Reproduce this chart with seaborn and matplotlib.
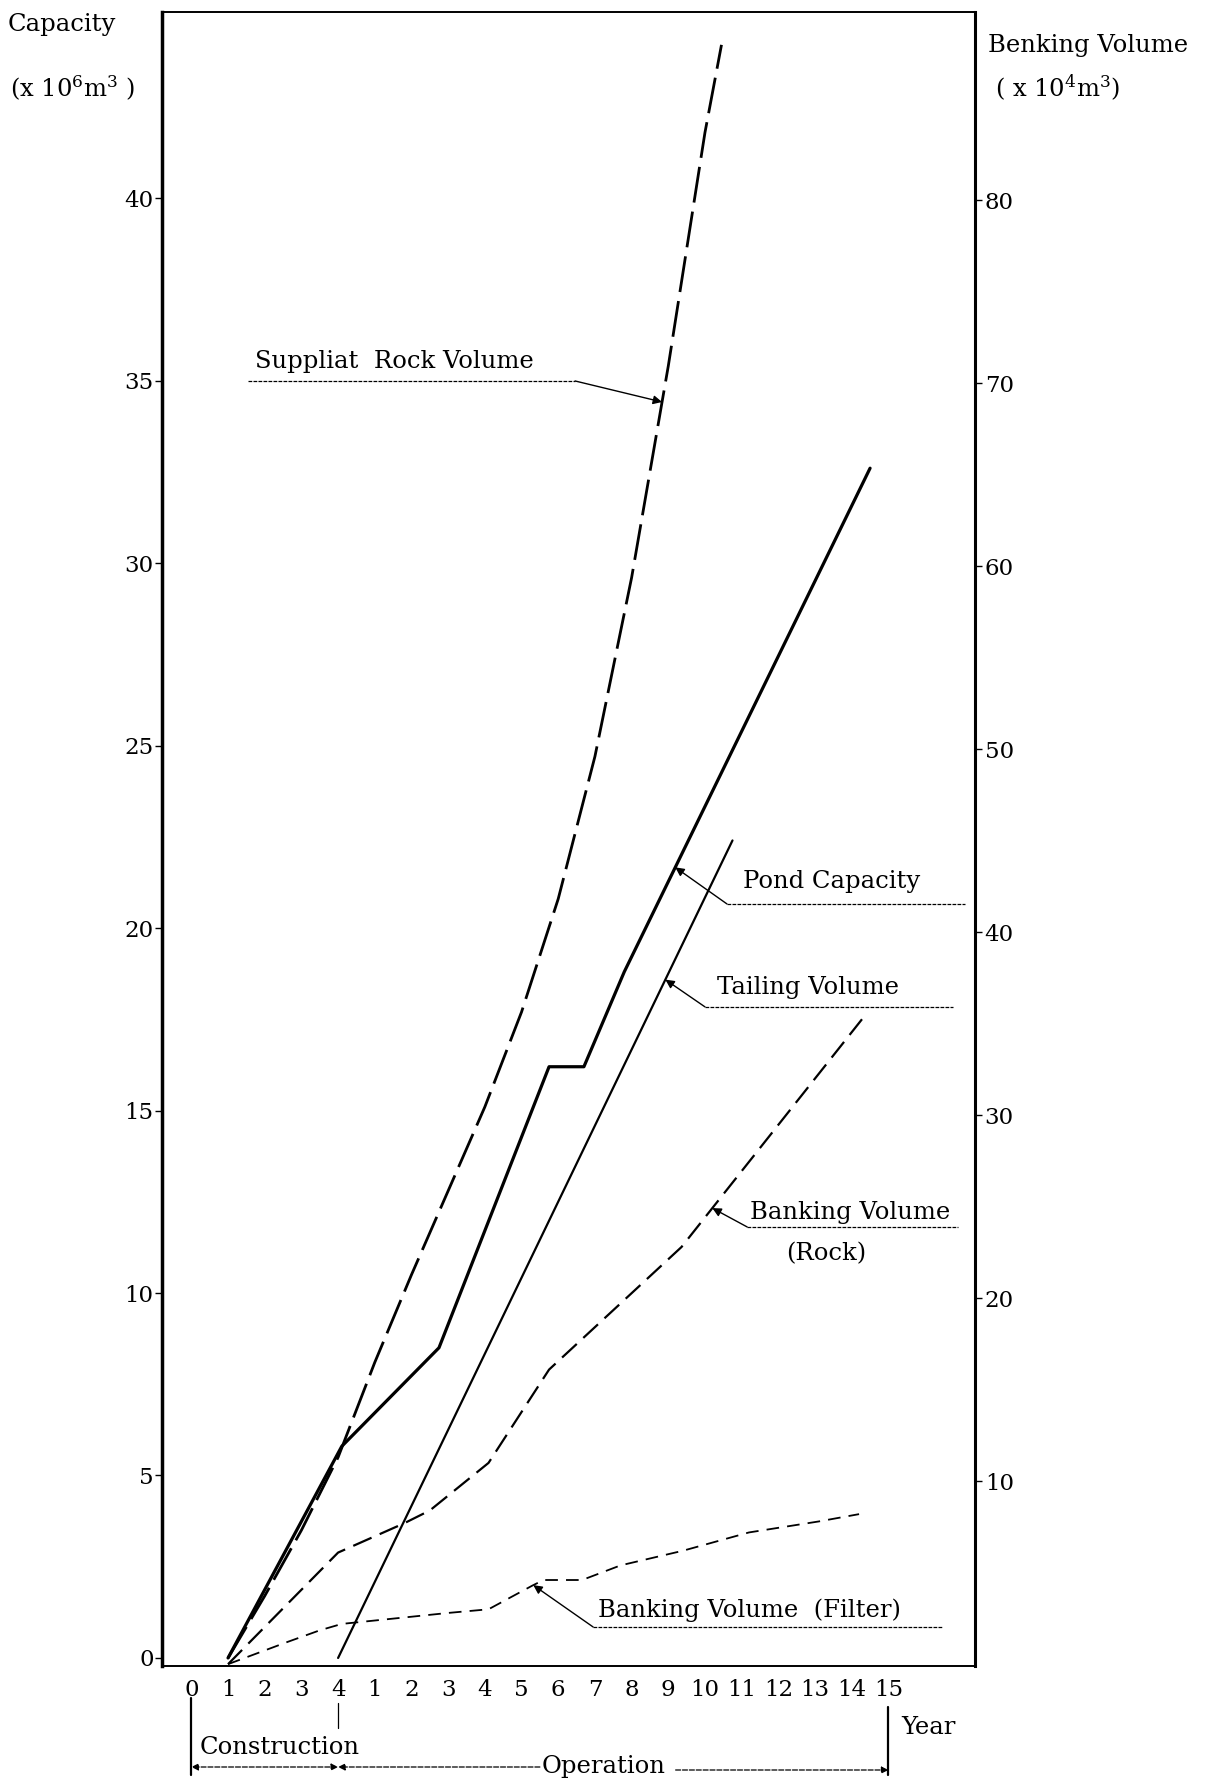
import matplotlib
matplotlib.use("Agg")
import matplotlib.pyplot as plt
import matplotlib.transforms as mtransforms
import numpy as np
import pandas as pd
import seaborn as sns

# x axis: positions 0-4 are construction years, 5-19 are operation years 1-15
year_pos = list(range(20))
year_labels = ["0", "1", "2", "3", "4"] + [str(i) for i in range(1, 16)]

# left axis series (x 10^6 m3)
suppliat_x = [1, 2, 3, 4, 5, 6, 7, 8, 9, 10, 11, 12, 13, 14, 14.45]
suppliat_y = [0, 1.7, 3.5, 5.5, 8.1, 10.5, 12.8, 15.1, 17.7, 20.8, 24.7, 29.6, 35.4, 41.8, 44.2]

pond_x = [1, 4.1, 6.75, 9.75, 10.7, 11.8, 18.5]
pond_y = [0, 5.8, 8.5, 16.2, 16.2, 18.8, 32.6]

tailing_x = [4, 14.75]
tailing_y = [0, 22.4]

# right axis series (x 10^4 m3)
rock_x = [1, 4, 5.8, 6.5, 8.1, 9.75, 13.36, 18.3]
rock_y = [0, 6.1, 7.7, 8.4, 11.0, 16.1, 22.8, 35.3]

filter_x = [1, 2.6, 3.5, 4.1, 7.0, 8.1, 9.3, 9.6, 10.65, 11.7, 13.4, 15.2, 17.1, 18.2]
filter_y = [0, 1.2, 1.85, 2.2, 2.8, 3.0, 4.3, 4.6, 4.6, 5.4, 6.2, 7.2, 7.8, 8.2]

left_ticks = list(range(0, 45, 5))
right_ticks = list(range(10, 90, 10))

sns.set_theme(style="white")
plt.rcParams["font.family"] = ["DejaVu Serif"]
plt.rcParams["mathtext.fontset"] = "dejavuserif"
plt.rcParams["text.color"] = "black"
plt.rcParams["xtick.color"] = "black"
plt.rcParams["ytick.color"] = "black"
plt.rcParams["axes.labelcolor"] = "black"

W, H = 1216, 1778
fig = plt.figure(figsize=(W / 100, H / 100), dpi=100)
ax = fig.add_axes([162 / W, 1 - 1666 / H, (975 - 162) / W, (1666 - 12) / H])
ax2 = ax.twinx()

FS = 17.5   # labels
TFS = 16.5  # tick labels

df_sup = pd.DataFrame({"x": suppliat_x, "y": suppliat_y})
df_pond = pd.DataFrame({"x": pond_x, "y": pond_y})
df_tail = pd.DataFrame({"x": tailing_x, "y": tailing_y})
df_rock = pd.DataFrame({"x": rock_x, "y": rock_y})
df_filt = pd.DataFrame({"x": filter_x, "y": filter_y})

sns.lineplot(data=df_sup, x="x", y="y", ax=ax, color="black", lw=2.0,
             linestyle=(0, (13, 3.3)), estimator=None, sort=False)
sns.lineplot(data=df_pond, x="x", y="y", ax=ax, color="black", lw=2.3,
             estimator=None, sort=False)
sns.lineplot(data=df_tail, x="x", y="y", ax=ax, color="black", lw=1.6,
             estimator=None, sort=False)
sns.lineplot(data=df_rock, x="x", y="y", ax=ax2, color="black", lw=1.6,
             linestyle=(0, (9, 4)), estimator=None, sort=False)
sns.lineplot(data=df_filt, x="x", y="y", ax=ax2, color="black", lw=1.3,
             linestyle=(0, (7, 4.5)), estimator=None, sort=False)

ax.set_xlim(-0.8, 21.36)
ax.set_ylim(-0.22, 45.1)
ax2.set_ylim(-0.1, 90.3)

ax.set_xticks(year_pos)
ax.set_xticklabels(year_labels)
ax.set_yticks(left_ticks)
ax2.set_yticks(right_ticks)
ax.set_xlabel("")
ax.set_ylabel("")
ax2.set_ylabel("")
ax.tick_params(axis="x", length=0, pad=9, labelsize=TFS)
ax.tick_params(axis="y", direction="out", length=5, width=1, pad=1,
               labelsize=TFS, left=True)
ax2.tick_params(axis="y", direction="out", length=5, width=1, pad=2,
                labelsize=TFS, right=True)

for s in ["left", "right", "top", "bottom"]:
    ax.spines[s].set_color("black")
    ax2.spines[s].set_visible(False)
ax.spines["right"].set_visible(False)
ax2.spines["right"].set_visible(True)
ax2.spines["right"].set_color("black")
ax2.spines["right"].set_linewidth(2.2)
ax.spines["left"].set_linewidth(2.5)
ax.spines["top"].set_linewidth(1.4)
ax.spines["bottom"].set_linewidth(1.4)


def leader(text, tx, ty, ux0, ux1, uy, target_x, sx, sy, tax, from_left=True):
    ax.text(tx, ty, text, fontsize=FS, ha="left", va="baseline")
    ax.plot([ux0, ux1], [uy, uy], color="black", lw=0.9, ls=(0, (3, 1)))
    start = ux0 if from_left else ux1
    target_y = np.interp(target_x, sx, sy)
    ax.annotate("", xy=(target_x, target_y), xycoords=tax.transData,
                xytext=(start, uy), textcoords=ax.transData,
                arrowprops=dict(arrowstyle="-|>", color="black", lw=1.0,
                                mutation_scale=13, shrinkA=0, shrinkB=0))


leader("Suppliat  Rock Volume", 1.74, 35.34, 1.55, 10.46, 34.99, 12.83,
       suppliat_x, suppliat_y, ax, from_left=False)
leader("Pond Capacity", 15.04, 21.1, 14.6, 21.09, 20.66, 13.19,
       pond_x, pond_y, ax)
leader("Tailing Volume", 14.33, 18.19, 14.0, 20.76, 17.84, 12.92,
       tailing_x, tailing_y, ax)
leader("Banking Volume", 15.23, 12.03, 15.15, 20.9, 11.81, 14.2,
       rock_x, rock_y, ax2)
ax.text(17.3, 10.9, "(Rock)", fontsize=FS, ha="center", va="baseline")
leader("Banking Volume  (Filter)", 11.09, 1.12, 10.95, 20.5, 0.85, 9.32,
       filter_x, filter_y, ax2)

# axis titles
fig.text(8 / W, 1 - 13 / H, "Capacity", fontsize=FS, ha="left", va="top")
fig.text(10 / W, 1 - 97 / H, "(x 10$^6$m$^3$ )", fontsize=FS, ha="left", va="baseline")
fig.text(988 / W, 1 - 52 / H, "Benking Volume", fontsize=FS, ha="left", va="baseline")
fig.text(995 / W, 1 - 97 / H, "( x 10$^4$m$^3$)", fontsize=FS, ha="left", va="baseline")

# construction / operation brackets below the axis
tr = mtransforms.blended_transform_factory(ax.transData, fig.transFigure)


def fy(py):
    return 1 - py / H


ax.plot([0, 0], [fy(1698), fy(1775)], color="black", lw=1.6, transform=tr, clip_on=False)
ax.plot([4, 4], [fy(1703), fy(1728)], color="black", lw=0.9, transform=tr, clip_on=False)
ax.plot([19, 19], [fy(1707), fy(1775)], color="black", lw=1.6, transform=tr, clip_on=False)
ax.text(0.23, fy(1748), "Construction", fontsize=FS, ha="left", va="center", transform=tr)
ax.text(9.55, fy(1767), "Operation", fontsize=FS, ha="left", va="center", transform=tr)
ax.text(19.36, fy(1728), "Year", fontsize=FS, ha="left", va="center", transform=tr)

arrow_kw = dict(color="black", lw=0.9, ls=(0, (4, 1.5)), mutation_scale=10, shrinkA=0, shrinkB=0)
ax.annotate("", xy=(0, fy(1767)), xytext=(4, fy(1767)), xycoords=tr, textcoords=tr,
            arrowprops=dict(arrowstyle="<|-|>", **arrow_kw), annotation_clip=False)
ax.annotate("", xy=(4, fy(1767)), xytext=(9.5, fy(1767)), xycoords=tr, textcoords=tr,
            arrowprops=dict(arrowstyle="-|>", **arrow_kw), annotation_clip=False)
ax.annotate("", xy=(19, fy(1770)), xytext=(13.2, fy(1770)), xycoords=tr, textcoords=tr,
            arrowprops=dict(arrowstyle="-|>", **arrow_kw), annotation_clip=False)

fig.savefig("out.png", dpi=100)
